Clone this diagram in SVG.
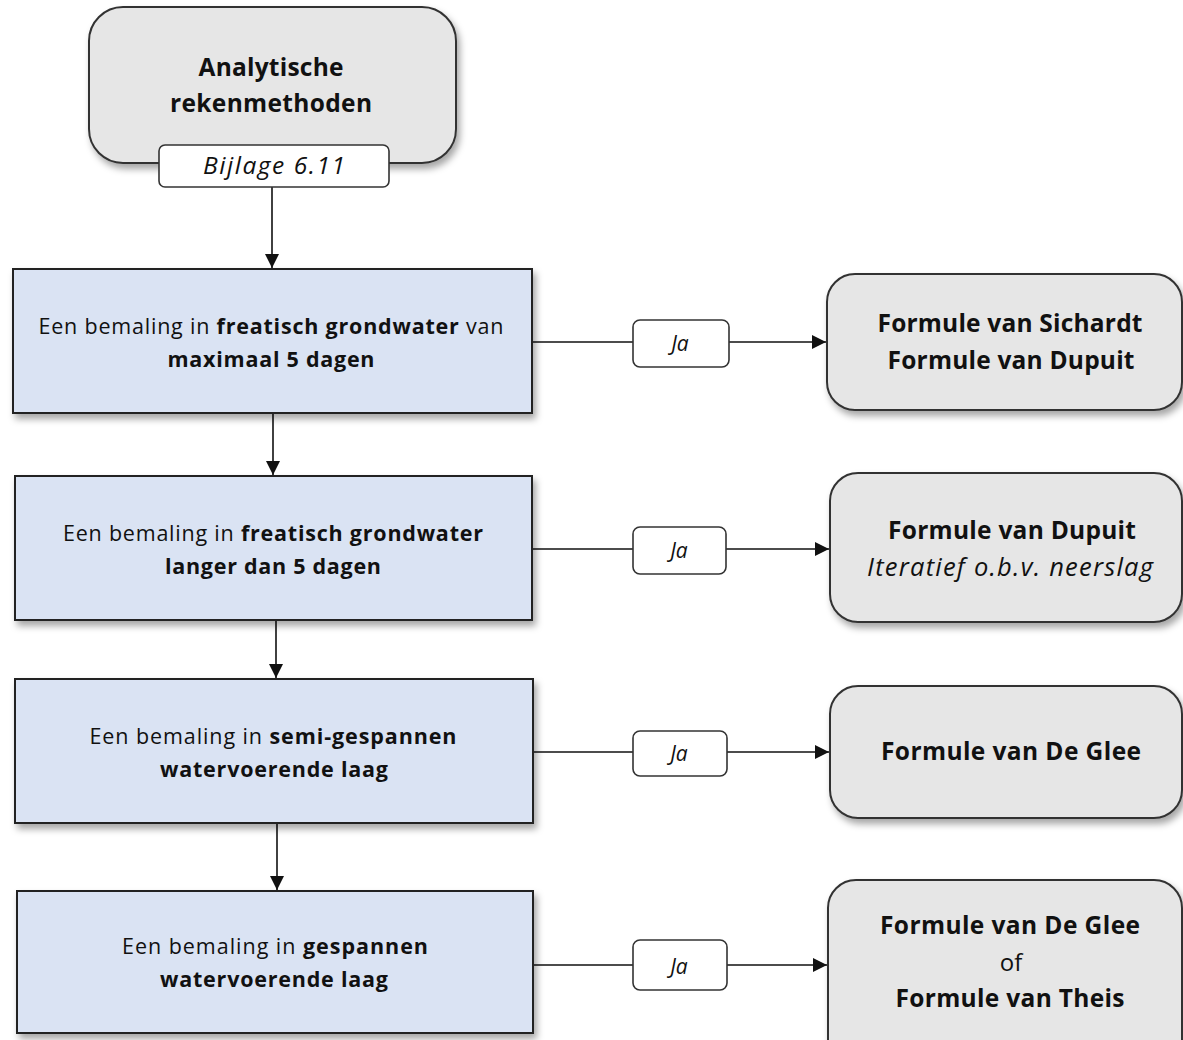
<svg xmlns="http://www.w3.org/2000/svg" width="1183" height="1040" viewBox="0 0 1183 1040">
<defs>
<filter id="sh" x="-10%" y="-10%" width="130%" height="140%">
<feDropShadow dx="3" dy="5" stdDeviation="3.5" flood-color="#000" flood-opacity="0.35"/>
</filter>
<marker id="ar" viewBox="0 0 10 10" refX="10" refY="5" markerWidth="15" markerHeight="14" markerUnits="userSpaceOnUse" orient="auto">
<path d="M0,0 L10,5 L0,10 Z" fill="#111"/>
</marker>
<style>
.gray{fill:#e6e6e6;stroke:#333;stroke-width:2;filter:url(#sh)}
.blue{fill:#dae3f3;stroke:#222;stroke-width:2;filter:url(#sh)}
.lbl{fill:#fff;stroke:#333;stroke-width:1.6}
.con{stroke:#111;stroke-width:1.6;fill:none}
text{font-family:"Open Sans","Liberation Sans",Arial,sans-serif;fill:#111;text-anchor:middle}
.t{font-size:21.5px}
.b{font-weight:bold}
.big{font-size:24.5px;font-weight:bold}
.it{font-style:italic}
.ja{font-size:21px;font-style:italic}
</style>
</defs>

<g id="connectors">
<line class="con" x1="272" y1="187" x2="272" y2="268" marker-end="url(#ar)"/>
<line class="con" x1="273" y1="413" x2="273" y2="475" marker-end="url(#ar)"/>
<line class="con" x1="276" y1="620" x2="276" y2="678" marker-end="url(#ar)"/>
<line class="con" x1="277" y1="823" x2="277" y2="890" marker-end="url(#ar)"/>
<line class="con" x1="532" y1="342" x2="633" y2="342"/>
<line class="con" x1="729" y1="342" x2="826" y2="342" marker-end="url(#ar)"/>
<line class="con" x1="532" y1="549" x2="633" y2="549"/>
<line class="con" x1="726" y1="549" x2="829" y2="549" marker-end="url(#ar)"/>
<line class="con" x1="533" y1="752" x2="633" y2="752"/>
<line class="con" x1="727" y1="752" x2="829" y2="752" marker-end="url(#ar)"/>
<line class="con" x1="533" y1="965" x2="633" y2="965"/>
<line class="con" x1="727" y1="965" x2="827" y2="965" marker-end="url(#ar)"/>
</g>

<g id="start">
<rect class="gray" x="89" y="7" width="367" height="156" rx="34"/>
<text class="big" x="271" y="76" textLength="145">Analytische</text>
<text class="big" x="271" y="112" textLength="202">rekenmethoden</text>
<rect class="lbl" x="159" y="145" width="230" height="42" rx="6"/>
<text class="it" x="274" y="174" style="font-size:24.5px" textLength="142">Bijlage 6.11</text>
</g>

<g id="q1">
<rect class="blue" x="13" y="269" width="519" height="144"/>
<text class="t" x="271" y="334" textLength="465">Een bemaling in <tspan class="b">freatisch grondwater</tspan> van</text>
<text class="t b" x="271" y="367" textLength="207">maximaal 5 dagen</text>
</g>
<g id="q2">
<rect class="blue" x="15" y="476" width="517" height="144"/>
<text class="t" x="273" y="541" textLength="420">Een bemaling in <tspan class="b">freatisch grondwater</tspan></text>
<text class="t b" x="273" y="574" textLength="216">langer dan 5 dagen</text>
</g>
<g id="q3">
<rect class="blue" x="15" y="679" width="518" height="144"/>
<text class="t" x="273" y="744" textLength="367">Een bemaling in <tspan class="b">semi-gespannen</tspan></text>
<text class="t b" x="274" y="777" textLength="228">watervoerende laag</text>
</g>
<g id="q4">
<rect class="blue" x="17" y="891" width="516" height="142"/>
<text class="t" x="275" y="954" textLength="306">Een bemaling in <tspan class="b">gespannen</tspan></text>
<text class="t b" x="274" y="987" textLength="228">watervoerende laag</text>
</g>

<g id="ja1"><rect class="lbl" x="633" y="320" width="96" height="47" rx="7"/><text class="ja" x="680" y="351">Ja</text></g>
<g id="ja2"><rect class="lbl" x="633" y="527" width="93" height="47" rx="7"/><text class="ja" x="679" y="558">Ja</text></g>
<g id="ja3"><rect class="lbl" x="633" y="731" width="94" height="45" rx="7"/><text class="ja" x="679" y="761">Ja</text></g>
<g id="ja4"><rect class="lbl" x="633" y="940" width="94" height="50" rx="7"/><text class="ja" x="679" y="974">Ja</text></g>

<g id="r1">
<rect class="gray" x="827" y="274" width="355" height="136" rx="28"/>
<text class="big" x="1010" y="332" textLength="265">Formule van Sichardt</text>
<text class="big" x="1011" y="369" textLength="247">Formule van Dupuit</text>
</g>
<g id="r2">
<rect class="gray" x="830" y="473" width="352" height="149" rx="28"/>
<text class="big" x="1012" y="539" textLength="248">Formule van Dupuit</text>
<text class="it" x="1010" y="576" style="font-size:25.5px" textLength="286">Iteratief o.b.v. neerslag</text>
</g>
<g id="r3">
<rect class="gray" x="830" y="686" width="352" height="132" rx="28"/>
<text class="big" x="1011" y="760" textLength="260">Formule van De Glee</text>
</g>
<g id="r4">
<rect class="gray" x="828" y="880" width="354" height="190" rx="28"/>
<text class="big" x="1010" y="934" textLength="260">Formule van De Glee</text>
<text x="1011" y="971" style="font-size:24px">of</text>
<text class="big" x="1010" y="1007" textLength="229">Formule van Theis</text>
</g>
</svg>
